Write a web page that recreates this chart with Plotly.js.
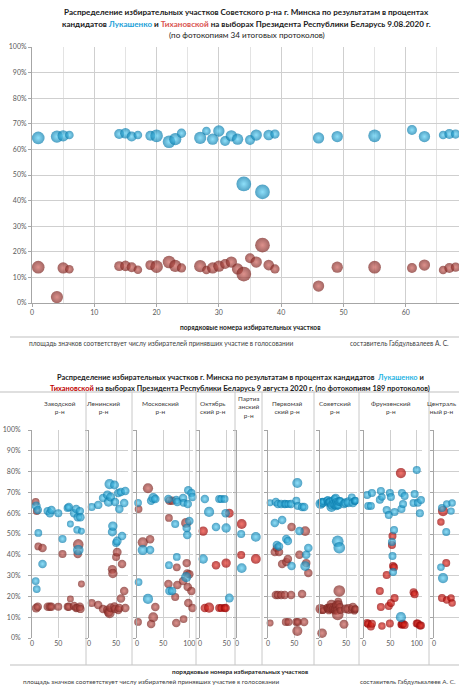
<!DOCTYPE html>
<html>
<head>
<meta charset="utf-8">
<script src="https://cdn.plot.ly/plotly-3.0.1.min.js"></script>
<style>
  html, body { margin: 0; padding: 0; background: #ffffff; }
  #chart { width: 459px; height: 686px; }
</style>
</head>
<body>
<div id="chart"></div>
<script>
// ---- Советский р-н (34 protocols): precinct number, % Лукашенко, % Тихановская, voters who took part
const sovNum    = [1, 4, 5, 6, 14, 15, 16, 17, 19, 20, 22, 23, 24, 27, 28, 29, 30, 31, 32, 33, 34, 35, 36, 37, 38, 39, 46, 49, 55, 61, 63, 66, 67, 68];
const sovLuk    = [64.5, 65, 65.3, 65.6, 66, 66.3, 65, 65.6, 65.3, 65.3, 63, 64, 66.3, 64.5, 67.2, 64, 67.2, 63.3, 65.3, 64, 46.5, 63.7, 65.6, 43.4, 65.6, 66, 64.5, 65, 65.3, 67.6, 65, 65.6, 66, 66];
const sovTikh   = [14, 2.3, 13.7, 13.2, 14.4, 14.5, 14, 13, 14.8, 14.2, 16, 14.5, 13.7, 14.4, 12.9, 13.7, 14.4, 15.2, 16, 13.3, 11.3, 17.5, 16, 22.6, 14.8, 13.3, 6.6, 14, 14, 13.7, 14.8, 12.9, 13.7, 14];
const sovVoters = [2500, 2300, 2000, 1150, 1550, 1750, 1550, 1150, 1550, 2500, 2500, 2300, 1350, 2300, 1150, 2000, 2000, 1550, 2000, 2000, 3400, 1550, 2000, 3400, 1750, 1350, 2000, 2000, 2500, 1550, 2000, 1150, 1550, 1350];

// ---- Заводской р-н
const zavNum    = [7, 8, 9, 11, 12, 20, 30, 34, 37, 50, 58, 68, 70, 73, 80, 84, 86, 87, 88, 91, 92, 94];
const zavLuk    = [27.4, 63.5, 23.5, 61.5, 50.5, 35.6, 61, 60, 61.5, 60, 47.6, 62.5, 63, 54.8, 60, 62, 52, 58, 42.3, 61, 58, 51.4];
const zavTikh   = [65.4, 14.4, 61, 15, 44, 43.3, 15, 15, 15, 15, 40.4, 15, 15, 18.8, 15.4, 14.4, 14.5, 40.4, 45, 15, 14, 26];
const zavVoters = [1500, 2000, 1500, 1800, 1500, 1800, 1800, 1800, 1800, 1600, 1600, 1700, 1800, 1200, 1800, 1800, 1500, 1800, 2800, 1800, 1800, 1200];

// ---- Ленинский р-н
const lenNum    = [5, 17, 26, 34, 36, 38, 40, 43, 44, 47, 48, 50, 52, 54, 56, 59, 61, 65, 67];
const lenLuk    = [63, 64, 67.3, 68.8, 65.4, 74, 67.8, 51, 53.8, 73.6, 65.4, 45.7, 46.6, 69.7, 62, 70.2, 49, 64.9, 70.7];
const lenTikh   = [16.8, 15.9, 13.9, 13.5, 12.5, 12, 14.5, 33, 31, 15, 14, 38.9, 41.3, 13.5, 14.4, 19, 35.6, 22.6, 14.4];
const lenVoters = [1600, 1800, 1800, 2000, 2200, 2600, 2000, 2000, 2200, 2000, 1800, 1600, 2000, 1800, 1800, 1800, 1800, 1800, 1800];

// ---- Московский р-н
const mosNum    = [2, 3, 11, 21, 25, 27, 31, 35, 60, 61, 62, 67, 73, 75, 76, 77, 88, 89, 94, 95, 96, 97, 98, 100, 104, 106];
const mosLuk    = [65, 26.9, 42.3, 18.8, 42.3, 66, 67.3, 66.8, 66.8, 35, 22.6, 22.6, 54.8, 66.3, 39, 65.4, 67.3, 65, 29.3, 52.9, 49.5, 64.4, 71, 56.3, 69.7, 67.8];
const mosTikh   = [7.7, 62, 46, 72, 47.5, 6.7, 10, 14.9, 26, 57.7, 66, 66, 19.7, 7.2, 34, 25.5, 27.4, 9.1, 55.3, 36, 31, 24.5, 16.8, 30.7, 22.6, 14.4];
const mosVoters = [1500, 1500, 2600, 2600, 1800, 1800, 2400, 1800, 1800, 1500, 1800, 1800, 1600, 1800, 1500, 1800, 1800, 1500, 2600, 1800, 1800, 1800, 1800, 1800, 1800, 1800];

// ---- Октябрьский р-н
const oktNum    = [6, 9, 17, 30, 36, 40, 46, 48, 49, 55];
const oktLuk    = [38, 66.8, 60.6, 53.4, 66.8, 66.8, 66.8, 60, 52.9, 19.2];
const oktTikh   = [51.4, 14.4, 14.6, 35, 14.4, 14.4, 14.4, 14.4, 36, 60];
const oktVoters = [2200, 1800, 2600, 1800, 1600, 1600, 1600, 1800, 2200, 2000];

// ---- Партизанский р-н
const parNum    = [8, 9, 36];
const parLuk    = [50, 33.6, 48.6];
const parTikh   = [39.9, 54.8, 38];
const parVoters = [1600, 2400, 2400];

// ---- Первомайский р-н
const perNum    = [4, 13, 15, 17, 19, 21, 25, 27, 32, 34, 35, 38, 39, 44, 45, 54, 56, 57, 60, 65, 69, 71, 73, 77];
const perLuk    = [65, 55.3, 65.4, 44.7, 64.4, 44, 64.4, 56.7, 64.4, 64.4, 47.6, 46.6, 64.4, 64.4, 34.6, 66, 74.5, 63.5, 51.4, 63, 63, 34.6, 40, 43.3];
const perTikh   = [7.2, 41.3, 20.7, 43.3, 20.7, 41.3, 20.7, 35.6, 20.7, 7.7, 36.5, 38, 7.7, 20.7, 53.4, 7.7, 3.4, 7.7, 40, 21.1, 7.7, 51.4, 36, 31.2];
const perVoters = [1200, 1800, 1800, 1800, 1800, 1800, 1800, 1800, 1800, 1600, 1800, 1800, 1600, 1800, 1800, 1600, 2500, 1600, 1800, 1800, 1800, 2400, 1800, 1800];

// ---- Фрунзенский р-н
const fruNum    = [6, 8, 13, 15, 30, 32, 34, 43, 47, 49, 51, 53, 54, 55, 57, 58, 70, 71, 72, 74, 77, 94, 96, 100, 102, 106, 108];
const fruLuk    = [68.8, 63.5, 63.5, 69.7, 66.5, 70.7, 67.8, 61.5, 59.1, 69.7, 67.8, 46.2, 39.4, 31.7, 51.9, 60.6, 10, 62, 69.7, 64.4, 68.3, 64.9, 69.2, 80.8, 65, 60, 66.3];
const fruTikh   = [7.2, 6.7, 5.5, 6.8, 22.6, 14.9, 5.8, 30.3, 15.4, 7, 16.8, 44.7, 49, 34.6, 34, 19.2, 79.3, 6.5, 6.5, 6.8, 6.2, 22, 21, 7, 7, 6, 6];
const fruVoters = [1600, 1600, 1600, 1600, 1600, 1600, 1400, 1600, 1600, 1600, 1600, 1600, 1600, 1600, 1600, 1600, 2600, 1600, 1600, 1600, 1600, 1600, 1600, 1600, 1600, 1600, 1600];

// ---- Центральный р-н
const cenNum    = [13, 15, 17, 23, 24, 32, 34];
const cenLuk    = [34, 62.5, 28.8, 51, 64.4, 61, 64.9];
const cenTikh   = [55.8, 19.2, 61, 36, 18.3, 19.2, 16.8];
const cenVoters = [1400, 1600, 2600, 1600, 1400, 1400, 1400];

// Column headers of the city chart
const districtLabels = ['Заводской<br>р-н', 'Ленинский<br>р-н', 'Московский<br>р-н', 'Октябрь<br>ский р-н',
  'Партиз<br>анский<br>р-н', 'Первомай<br>ский р-н', 'Советский<br>р-н', 'Фрунзенский<br>р-н', 'Централь<br>ный р-н'];
const xTickVals = [0, 10, 20, 30, 40, 50, 60];
const yTickVals = [0, 10, 20, 30, 40, 50, 60, 70, 80, 90, 100];
const yTickText = yTickVals.map(v => v + '%');

// ---------------------------------------------------------------------------
const W = 459, H = 686;
const fx = px => px / W;
const fy = py => 1 - py / H;

const FONT = 'Lato, Roboto, "Noto Sans", sans-serif';
const GRID = '#cfcfcf', GRID_MINOR = '#e3e3e3', AXIS = '#a6a6a6', TICKTXT = '#595959';

const BLUE   = { base: '#077aab', glow: '#5ed2f7' };
const BROWN  = { base: '#7a2420', glow: '#d0625b' };
const BRIGHT = { base: '#950000', glow: '#f03a2e' };

function bubbles(xs, ys, voters, xa, ya, col, sizeref, name) {
  return {
    type: 'scatter', mode: 'markers', name: name, showlegend: false,
    x: xs, y: ys, xaxis: xa, yaxis: ya, cliponaxis: false,
    hovertemplate: '%{x}: %{y}%<extra>' + name + '</extra>',
    marker: {
      size: voters, sizemode: 'area', sizeref: sizeref,
      color: col.base, gradient: { type: 'radial', color: col.glow },
      line: { width: 0 }
    }
  };
}

const traces = [];
const layout = {
  width: W, height: H,
  margin: { l: 0, r: 0, t: 0, b: 0 },
  paper_bgcolor: '#ffffff', plot_bgcolor: 'rgba(0,0,0,0)',
  font: { family: FONT, color: '#262626', size: 7 },
  showlegend: false,
  annotations: [], shapes: []
};

// ---- Top chart: Советский р-н
const TOP_SIZEREF = 31.25;
traces.push(bubbles(sovNum, sovTikh, sovVoters, 'x', 'y', BROWN, TOP_SIZEREF, 'Тихановская'));
traces.push(bubbles(sovNum, sovLuk, sovVoters, 'x', 'y', BLUE, TOP_SIZEREF, 'Лукашенко'));

layout.xaxis = {
  domain: [fx(32), 1], range: [0, 68.55], anchor: 'y',
  tickmode: 'array', tickvals: xTickVals,
  showgrid: true, gridcolor: GRID, gridwidth: 1,
  minor: { dtick: 5, tick0: 0, showgrid: true, gridcolor: GRID_MINOR, ticks: '' },
  showline: true, linecolor: AXIS, ticks: 'outside', ticklen: 3, tickcolor: AXIS,
  tickfont: { size: 7, color: TICKTXT, family: FONT }, zeroline: false, fixedrange: true
};
layout.yaxis = {
  domain: [fy(303), fy(47)], range: [0, 100], anchor: 'x',
  tickmode: 'array', tickvals: yTickVals, ticktext: yTickText,
  showgrid: true, gridcolor: GRID, showline: true, linecolor: AXIS,
  ticks: 'outside', ticklen: 3, tickcolor: AXIS,
  tickfont: { size: 7, color: TICKTXT, family: FONT }, zeroline: false, fixedrange: true
};

// ---- City chart: one subplot per district
const BOT_SIZEREF = 50;
const panels = [
  { num: zavNum, luk: zavLuk, tikh: zavTikh, v: zavVoters, red: BROWN },
  { num: lenNum, luk: lenLuk, tikh: lenTikh, v: lenVoters, red: BROWN },
  { num: mosNum, luk: mosLuk, tikh: mosTikh, v: mosVoters, red: BROWN },
  { num: oktNum, luk: oktLuk, tikh: oktTikh, v: oktVoters, red: BRIGHT },
  { num: parNum, luk: parLuk, tikh: parTikh, v: parVoters, red: BRIGHT },
  { num: perNum, luk: perLuk, tikh: perTikh, v: perVoters, red: BROWN },
  { num: sovNum, luk: sovLuk, tikh: sovTikh, v: sovVoters, red: BROWN },
  { num: fruNum, luk: fruLuk, tikh: fruTikh, v: fruVoters, red: BRIGHT },
  { num: cenNum, luk: cenLuk, tikh: cenTikh, v: cenVoters, red: BRIGHT }
];
// pixel spans of each subplot and the right end of its number axis
const panelSpan = [[32, 83], [89, 128], [137, 193], [200, 232], [237, 260], [268, 312], [320, 357], [364, 422], [434, 459]];
const panelMax  = [97, 72, 107, 60, 44, 84, 71, 110, 47];
const headerX   = [60, 103, 160, 213, 248, 287, 335, 391, 447];

panels.forEach((p, i) => {
  const n = i + 2;
  const xa = 'x' + n, ya = 'y' + n;
  traces.push(bubbles(p.num, p.tikh, p.v, xa, ya, p.red, BOT_SIZEREF, 'Тихановская'));
  traces.push(bubbles(p.num, p.luk, p.v, xa, ya, BLUE, BOT_SIZEREF, 'Лукашенко'));
  layout['xaxis' + n] = {
    domain: [fx(panelSpan[i][0]), fx(panelSpan[i][1])], range: [0, panelMax[i]], anchor: ya,
    tickmode: 'linear', tick0: 0, dtick: 50,
    showgrid: true, gridcolor: GRID, showline: false, ticks: '',
    tickfont: { size: 7, color: TICKTXT, family: FONT }, zeroline: false, fixedrange: true
  };
  layout['yaxis' + n] = {
    domain: [fy(638), fy(430)], range: [0, 100], anchor: xa,
    tickmode: 'array', tickvals: yTickVals, ticktext: yTickText,
    showticklabels: i === 0, ticklabelstandoff: 6,
    showgrid: true, gridcolor: GRID, showline: true, linecolor: AXIS,
    ticks: 'outside', ticklen: 3, tickcolor: AXIS,
    tickfont: { size: 7, color: TICKTXT, family: FONT }, zeroline: false, fixedrange: true
  };
  const last = i === panels.length - 1;
  layout.annotations.push({
    text: districtLabels[i], xref: 'paper', yref: 'paper',
    x: last ? fx(458) : fx(headerX[i]), y: fy(407),
    xanchor: last ? 'right' : 'center', yanchor: 'middle',
    showarrow: false, align: 'center',
    font: { size: 6.5, color: '#404040', family: FONT }
  });
});

// ---- Frame lines
function hline(py, x0, x1) {
  layout.shapes.push({ type: 'line', xref: 'paper', yref: 'paper', x0: fx(x0), x1: fx(x1), y0: fy(py), y1: fy(py),
    line: { color: '#bfbfbf', width: 1 } });
}
function vline(px, y0, y1) {
  layout.shapes.push({ type: 'line', xref: 'paper', yref: 'paper', x0: fx(px), x1: fx(px), y0: fy(y0), y1: fy(y1),
    line: { color: '#c8c8c8', width: 1 } });
}
hline(337, 10, 459);
hline(392, 0, 459);
hline(665, 10, 459);
[86, 132, 196, 235, 262, 314, 359, 429].forEach(px => vline(px, 392, 665));

// ---- Texts
function note(text, px, py, size, opts) {
  layout.annotations.push(Object.assign({
    text: text, xref: 'paper', yref: 'paper', x: fx(px), y: fy(py),
    xanchor: 'center', yanchor: 'middle', showarrow: false,
    font: { size: size, color: '#1a1a1a', family: FONT }
  }, opts || {}));
}
const LUK_TOP = '#1c9fd8', TIKH_TOP = '#d9534f';
note('<b>Распределение избирательных участков Советского р-на г. Минска по результатам в процентах</b>', 246, 12, 8.1);
note('<b>кандидатов <span style="color:' + LUK_TOP + '">Лукашенко</span> и <span style="color:' + TIKH_TOP + '">Тихановской</span> на выборах Президента Республики Беларусь 9.08.2020 г.</b>', 246, 23.5, 8.1);
note('(по фотокопиям 34 итоговых протоколов)', 247, 34.5, 8.1);
note('<b>порядковые номера избирательных участков</b>', 250, 327, 6.6);
note('площадь значков соответствует числу избирателей принявших участие в голосовании', 27, 343, 6.6,
  { xanchor: 'left', font: { size: 6.6, color: '#404040', family: FONT } });
note('составитель Габдульвалеев А. С.', 348, 343, 6.6,
  { xanchor: 'left', font: { size: 6.6, color: '#404040', family: FONT } });

const LUK_BOT = '#1fb4e4', TIKH_BOT = '#c00000';
note('<b>Распределение избирательных участков г. Минска по результатам в процентах кандидатов  <span style="color:' + LUK_BOT + '">Лукашенко</span> и</b>', 240, 377, 7.4);
note('<b><span style="color:' + TIKH_BOT + '">Тихановской</span> на выборах Президента Республики Беларусь 9 августа 2020 г. (по фотокопиям 189 протоколов)</b>', 240, 388, 7.4);
note('<b>порядковые номера избирательных участков</b>', 240, 671, 6.4);
note('площадь значков соответствует числу избирателей принявших участие в голосовании', 21, 681, 6.4,
  { xanchor: 'left', font: { size: 6.4, color: '#404040', family: FONT } });
note('составитель Габдульвалеев А. С.', 458, 681, 6.4,
  { xanchor: 'right', font: { size: 6.4, color: '#404040', family: FONT } });

Plotly.newPlot('chart', traces, layout, { displayModeBar: false, staticPlot: true });
</script>
</body>
</html>
